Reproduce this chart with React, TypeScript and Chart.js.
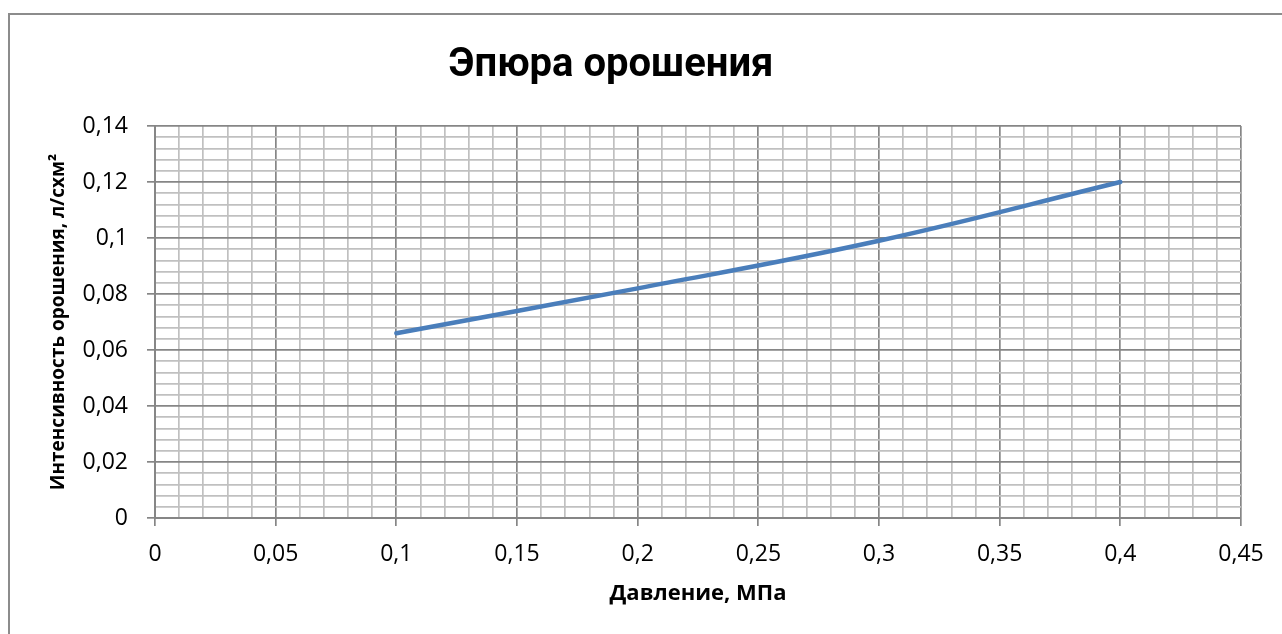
import React, { useEffect, useRef } from 'react';
import { Chart, registerables } from 'chart.js';

Chart.register(...registerables);

// ---- data ----
const pressure = [0.1, 0.2, 0.3, 0.4];
const intensity = [0.066, 0.082, 0.099, 0.12];

const chartTitle = 'Эпюра орошения';
const xAxisTitle = 'Давление, МПа';
const yAxisTitle = 'Интенсивность орошения, л/схм²';

const xMin = 0;
const xMax = 0.45;
const xMinorStep = 0.01;
const xMajorEvery = 5; // major every 0.05
const yMin = 0;
const yMax = 0.14;
const yMinorStep = 0.004;
const yMajorEvery = 5; // major every 0.02

const MAJOR = '#868686';
const MINOR = '#c0c0c0';
const FONT = "'Open Sans', 'Noto Sans', sans-serif";
const TITLE_FONT = "Roboto, 'Open Sans', sans-serif";

const fmt = (v: number) => String(Math.round(v * 100) / 100).replace('.', ',');
const isMajor = (v: number, step: number, every: number) => Math.round(v / step) % every === 0;

export default function App() {
  const ref = useRef<HTMLCanvasElement | null>(null);

  useEffect(() => {
    if (!ref.current) return;
    const points = pressure.map((p, i) => ({ x: p, y: intensity[i] }));
    const chart = new Chart(ref.current, {
      type: 'scatter',
      data: {
        datasets: [
          {
            data: points,
            showLine: true,
            borderColor: '#4a7ebb',
            backgroundColor: '#4a7ebb',
            borderWidth: 4.5,
            borderCapStyle: 'round',
            pointRadius: 0,
            tension: 0.4,
          },
        ],
      },
      options: {
        animation: false,
        responsive: false,
        devicePixelRatio: 1,
        layout: { padding: { left: 0, right: 41, top: 0, bottom: 0 } },
        plugins: {
          legend: { display: false },
          tooltip: { enabled: false },
          title: {
            display: true,
            text: chartTitle,
            color: '#000',
            font: { family: TITLE_FONT, size: 40, weight: 'bold' },
            padding: { top: 42, bottom: 36 },
          },
        },
        scales: {
          x: {
            type: 'linear',
            min: xMin,
            max: xMax,
            afterFit: (s: any) => {
              s.height = 116;
            },
            ticks: {
              stepSize: xMinorStep,
              autoSkip: false,
              maxRotation: 0,
              minRotation: 0,
              color: '#000',
              padding: 15,
              font: { family: FONT, size: 23 },
              callback: (v: any) => (isMajor(Number(v), xMinorStep, xMajorEvery) ? fmt(Number(v)) : ''),
            },
            grid: {
              color: (c: any) => (isMajor(c.tick.value, xMinorStep, xMajorEvery) ? MAJOR : MINOR),
              tickColor: (c: any) => (isMajor(c.tick.value, xMinorStep, xMajorEvery) ? MAJOR : 'rgba(0,0,0,0)'),
              lineWidth: 1.7,
              tickLength: 8,
            },
            border: { color: MAJOR, width: 2 },
            title: {
              display: true,
              text: xAxisTitle,
              color: '#000',
              font: { family: FONT, size: 22, weight: 'bold' },
              padding: { top: 0, bottom: 27 },
            },
          },
          y: {
            type: 'linear',
            min: yMin,
            max: yMax,
            afterFit: (s: any) => {
              s.width = 174;
            },
            ticks: {
              stepSize: yMinorStep,
              autoSkip: false,
              color: '#000',
              padding: 19,
              font: { family: FONT, size: 23 },
              callback: (v: any) => (isMajor(Number(v), yMinorStep, yMajorEvery) ? fmt(Number(v)) : ''),
            },
            grid: {
              color: (c: any) => (isMajor(c.tick.value, yMinorStep, yMajorEvery) ? MAJOR : MINOR),
              tickColor: (c: any) => (isMajor(c.tick.value, yMinorStep, yMajorEvery) ? MAJOR : 'rgba(0,0,0,0)'),
              lineWidth: 1.7,
              tickLength: 8,
            },
            border: { color: MAJOR, width: 2 },
            title: {
              display: true,
              text: yAxisTitle,
              color: '#000',
              font: { family: FONT, size: 19, weight: 'bold' },
              padding: { top: 66, bottom: 0 },
            },
          },
        },
      },
    });
    return () => chart.destroy();
  }, []);

  return (
    <div>
      <div
        style={{
          position: 'fixed',
          left: 8,
          top: 13,
          width: 1400,
          height: 700,
          border: '2px solid #8c8c8c',
          boxSizing: 'border-box',
        }}
      />
      <canvas
        ref={ref}
        width={1301}
        height={634}
        style={{ position: 'fixed', left: -19, top: 0, width: 1301, height: 634 }}
      />
    </div>
  );
}
